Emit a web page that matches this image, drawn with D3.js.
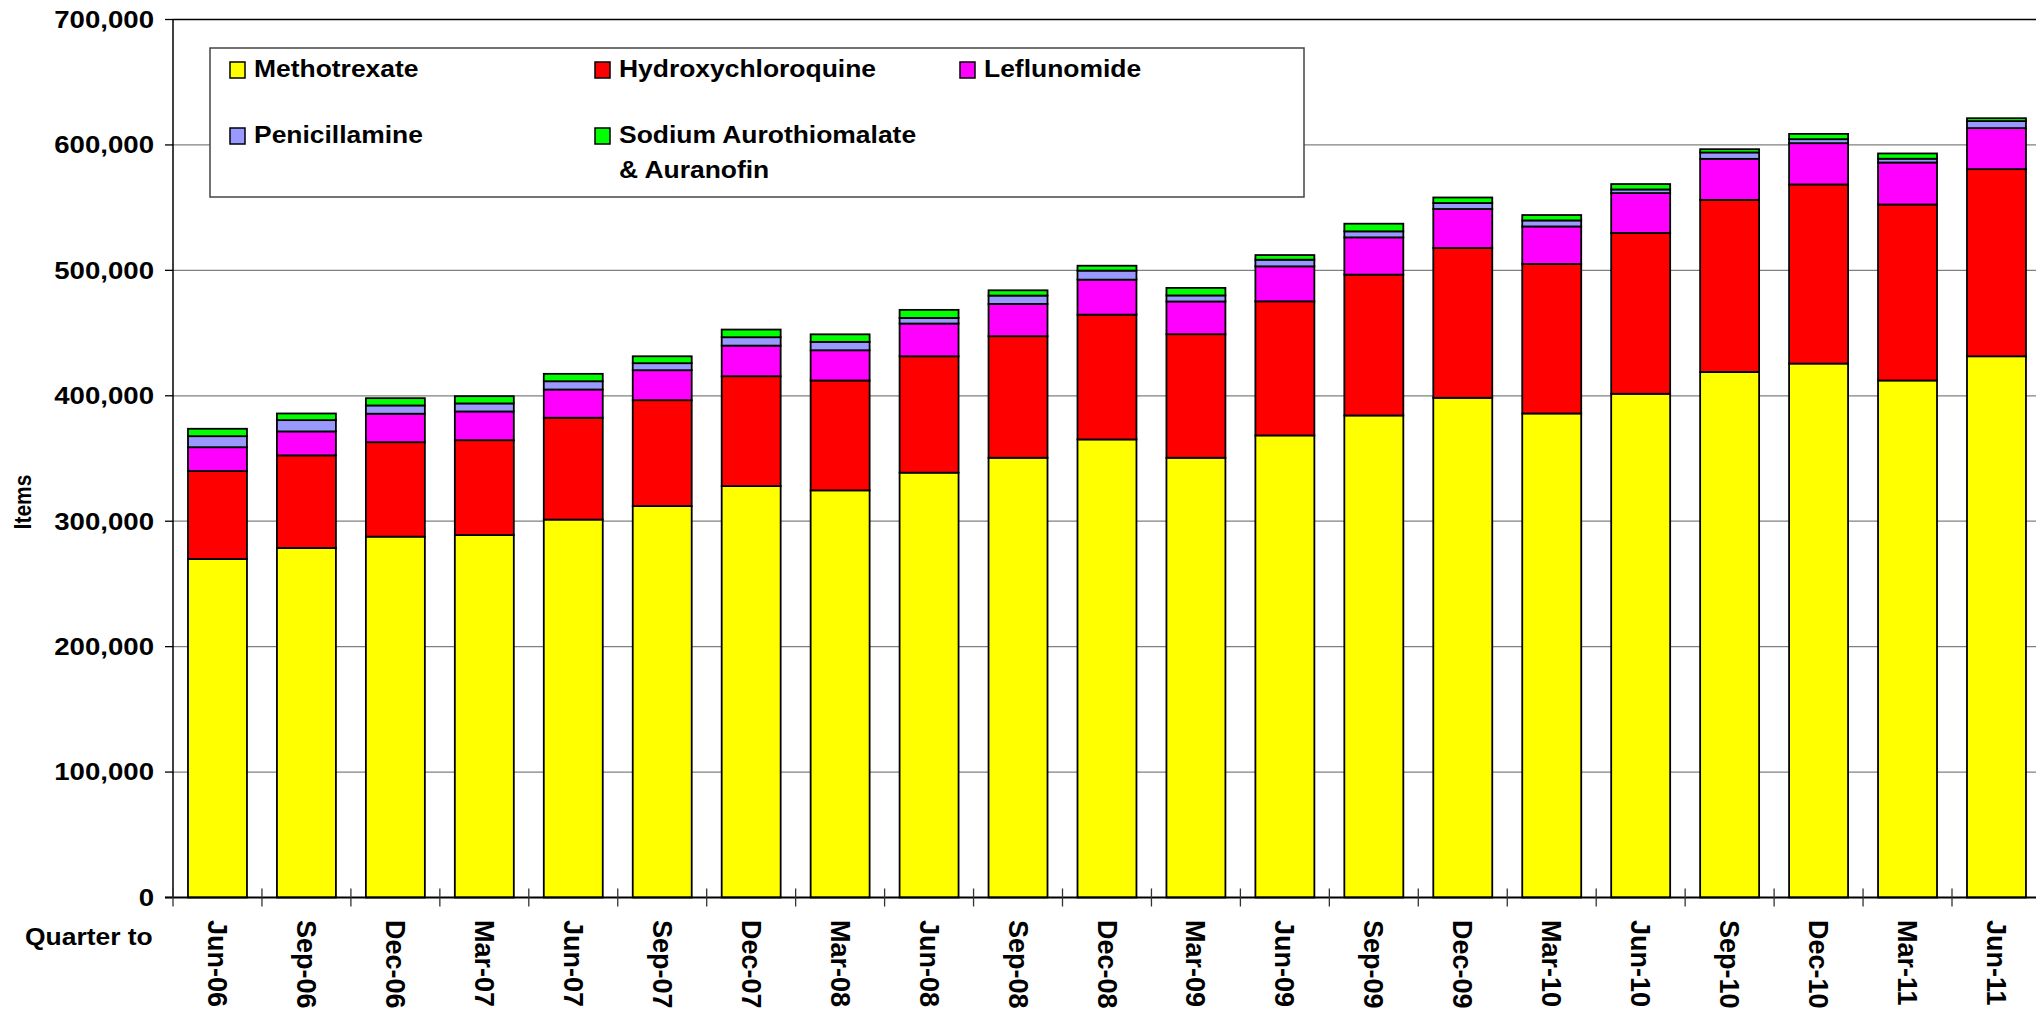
<!DOCTYPE html>
<html>
<head>
  <title>DMARD items by quarter</title>
  <script src="https://d3js.org/d3.v7.min.js"></script>
  <style>
    body {
      margin: 0;
      background: #fff;
    }
    svg {
      display: block;
      font-family: "Liberation Sans", Arial, sans-serif;
      font-weight: bold;
    }
    .grid line {
      stroke: #808080;
      stroke-width: 1.3px;
    }
    .seg {
      stroke: #000;
      stroke-width: 1.8px;
    }
  </style>
</head>
<body>
  <div id="chart"></div>

  <script>
    // quarters (x categories)
    const quarters = ['Jun-06', 'Sep-06', 'Dec-06', 'Mar-07', 'Jun-07', 'Sep-07', 'Dec-07',
      'Mar-08', 'Jun-08', 'Sep-08', 'Dec-08', 'Mar-09', 'Jun-09', 'Sep-09', 'Dec-09',
      'Mar-10', 'Jun-10', 'Sep-10', 'Dec-10', 'Mar-11', 'Jun-11'];

    // items per quarter
    const methotrexate = [269900, 278700, 287700, 289000, 301300, 312100, 328000, 324600, 338700, 350600,
      365200, 350600, 368400, 384300, 398400, 385900, 401600, 419000, 425700, 412200, 431500];
    const hydroxychloroquine = [70100, 73800, 75300, 75600, 81200, 84400, 87600, 87600, 92800, 96900,
      99500, 98500, 106900, 112300, 119400, 119200, 128200, 137200, 142800, 140300, 149200];
    const leflunomide = [19000, 19100, 22700, 22900, 22500, 23900, 24400, 24100, 26100, 25700,
      27900, 26100, 27900, 29700, 31100, 29900, 31800, 32700, 32900, 33500, 32700];
    const penicillamine = [8800, 9000, 6600, 6400, 6600, 5600, 6700, 6700, 4500, 6700,
      7200, 4800, 5300, 4800, 4800, 4800, 2900, 5100, 3200, 3000, 5600];
    const sodiumAuro = [5900, 5300, 5800, 5800, 5900, 5500, 6100, 6000, 6400, 4200,
      3900, 6000, 3700, 6100, 4400, 4300, 4300, 2600, 4200, 4200, 2300];

    const yTicks = [0, 100000, 200000, 300000, 400000, 500000, 600000, 700000];

    const seriesNames = ['Methotrexate', 'Hydroxychloroquine', 'Leflunomide', 'Penicillamine',
      'Sodium Aurothiomalate\n& Auranofin'];
    const seriesColors = ['#ffff00', '#ff0000', '#ff00ff', '#9999ff', '#00ff00'];
    const seriesValues = [methotrexate, hydroxychloroquine, leflunomide, penicillamine, sodiumAuro];

    const width = 2036, height = 1014;
    const plotLeft = 173, plotTop = 19.5, plotBottom = 897.5, step = 88.95;
    const stretch = 1.15;  // the original text is a bit wider than Arial

    const svg = d3.select('#chart')
      .append('svg')
      .attr('width', width)
      .attr('height', height);

    const x = d3.scaleBand()
      .domain(quarters)
      .range([plotLeft, plotLeft + quarters.length * step])
      .paddingInner(0.337)
      .paddingOuter(0.1685);

    const y = d3.scaleLinear()
      .domain([0, 700000])
      .range([plotBottom, plotTop]);

    // build rows for the stack
    const keys = seriesNames.map((d, i) => 's' + i);
    const rows = quarters.map((q, j) => {
      const r = { quarter: q };
      keys.forEach((k, i) => r[k] = seriesValues[i][j]);
      return r;
    });
    const stacked = d3.stack().keys(keys)(rows);

    // gridlines
    svg.append('g')
      .attr('class', 'grid')
      .selectAll('line')
      .data(yTicks.filter(t => t > 0 && t < 700000))
      .join('line')
      .attr('x1', plotLeft)
      .attr('x2', width)
      .attr('y1', d => y(d))
      .attr('y2', d => y(d));

    // plot area top border
    svg.append('line')
      .attr('x1', plotLeft).attr('x2', width)
      .attr('y1', y(700000)).attr('y2', y(700000))
      .attr('stroke', '#000')
      .attr('stroke-width', 1.5);

    // legend
    const legend = svg.append('g');
    legend.append('rect')
      .attr('x', 210).attr('y', 48)
      .attr('width', 1094).attr('height', 149)
      .attr('fill', '#fff')
      .attr('stroke', '#444')
      .attr('stroke-width', 1.5);

    const item = legend.selectAll('.item')
      .data(seriesNames)
      .join('g')
      .attr('class', 'item')
      .attr('transform', (d, i) => `translate(${230 + (i % 3) * 365},${78 + Math.floor(i / 3) * 66})`);

    item.append('rect')
      .attr('x', 0).attr('y', -16)
      .attr('width', 15).attr('height', 16)
      .attr('fill', (d, i) => seriesColors[i])
      .attr('stroke', '#000')
      .attr('stroke-width', 1.5);

    item.each(function(d) {
      const lines = d.split('\n');
      lines.forEach((line, k) => {
        d3.select(this).append('text')
          .attr('transform', `translate(24,${-0.7 + k * 35}) scale(${stretch},1)`)
          .attr('font-size', 23)
          .text(line);
      });
    });

    // bars
    svg.append('g')
      .selectAll('g')
      .data(stacked)
      .join('g')
      .attr('fill', (d, i) => seriesColors[i])
      .selectAll('rect')
      .data(d => d)
      .join('rect')
      .attr('class', 'seg')
      .attr('x', d => x(d.data.quarter))
      .attr('width', x.bandwidth())
      .attr('y', d => y(d[1]))
      .attr('height', d => y(d[0]) - y(d[1]));

    // y axis
    svg.append('line')
      .attr('x1', plotLeft).attr('x2', plotLeft)
      .attr('y1', plotTop).attr('y2', plotBottom)
      .attr('stroke', '#000').attr('stroke-width', 1.5);

    const yt = svg.append('g')
      .selectAll('g')
      .data(yTicks)
      .join('g')
      .attr('transform', d => `translate(0,${y(d)})`);
    yt.append('line')
      .attr('x1', plotLeft - 8).attr('x2', plotLeft)
      .attr('stroke', '#000').attr('stroke-width', 1.3);
    yt.append('text')
      .attr('transform', `translate(154,0) scale(${stretch},1)`)
      .attr('text-anchor', 'end')
      .attr('dy', '0.35em')
      .attr('font-size', 24)
      .text(d => d3.format(',')(d));

    // x axis
    svg.append('line')
      .attr('x1', plotLeft - 8).attr('x2', width)
      .attr('y1', plotBottom).attr('y2', plotBottom)
      .attr('stroke', '#000').attr('stroke-width', 2);

    svg.append('g')
      .selectAll('line')
      .data(d3.range(quarters.length + 1))
      .join('line')
      .attr('x1', i => plotLeft + i * x.step())
      .attr('x2', i => plotLeft + i * x.step())
      .attr('y1', plotBottom - 9)
      .attr('y2', plotBottom + 9)
      .attr('stroke', '#333')
      .attr('stroke-width', 1.3);

    svg.append('g')
      .selectAll('text')
      .data(quarters)
      .join('text')
      .attr('transform', d => `translate(${x(d) + x.bandwidth() / 2},920) rotate(90)`)
      .attr('dy', '0.35em')
      .attr('font-size', 27)
      .text(d => d);

    svg.append('text')
      .attr('transform', `translate(25,945) scale(${stretch},1)`)
      .attr('font-size', 23)
      .text('Quarter to');

    svg.append('text')
      .attr('transform', `translate(23,502) rotate(-90) scale(1,${stretch})`)
      .attr('text-anchor', 'middle')
      .attr('dy', '0.35em')
      .attr('font-size', 21)
      .text('Items');
  </script>
</body>
</html>
